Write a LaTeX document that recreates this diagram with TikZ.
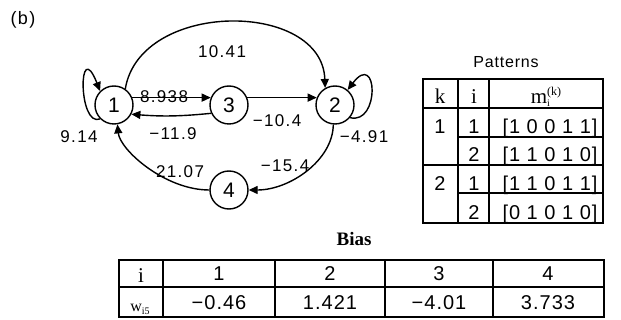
\documentclass[tikz,border=0pt]{standalone}
\usepackage{fontspec}
\setmainfont{Liberation Sans}
\newfontfamily\gul{Liberation Sans}[LetterSpace=8]
\newfontfamily\gut{Liberation Sans}[LetterSpace=5]
\newfontfamily\tms{Liberation Serif}
\usetikzlibrary{arrows.meta}
\begin{document}
\begin{tikzpicture}[x=1pt,y=-1pt,
  vtx/.style={circle,draw,line width=1.4pt,minimum size=38pt,inner sep=0pt,font=\fontsize{21}{21}\selectfont},
  lbl/.style={font=\fontsize{17}{17}\selectfont\gul,inner sep=0pt},
  edge/.style={line width=1.4pt,-{Triangle[length=9pt,width=8pt]}},
  tline/.style={line width=1.1pt},
  cell/.style={font=\fontsize{20}{20}\selectfont\gut,inner sep=0pt,anchor=base},
  hdr/.style={font=\fontsize{21}{21}\selectfont\tms,inner sep=0pt,anchor=base}]
\useasboundingbox (0,0) rectangle (621,320);

% title
\node[font=\fontsize{18}{18}\selectfont\gul,inner sep=0pt] (b) at (23,20) {(b)};

% graph nodes
\node[vtx] (n1) at (114,105) {1};
\node[vtx] (n3) at (229,105) {3};
\node[vtx] (n2) at (335,105) {2};
\node[vtx] (n4) at (229,190) {4};

% edges
\draw[edge] (n1.55) .. controls (140,0) and (322,0) .. (n2.120);
\draw[edge] (n1.225) .. controls (78,128) and (78,35) .. (n1.135);
\draw[edge] (n2.-40) .. controls (380,125) and (378,50) .. (n2.50);
\draw[edge] (n1.22) -- (n3.158);
\draw[edge] (n3.205) to[bend left=5] (n1.-28);
\draw[edge] (n3.22) -- (n2.158);
\draw[edge] (n2.-95) .. controls (333,160) and (290,190) .. (n4.east);
\draw[edge] (n4.west) .. controls (165,190) and (120,150) .. (n1.-80);

% edge labels
\node[lbl] (l1) at (222,52) {10.41};
\node[lbl] (l2) at (164,97) {8.938};
\node[lbl] (l3) at (173,134) {−11.9};
\node[lbl] (l4) at (277,121) {−10.4};
\node[lbl] (l5) at (79,137) {9.14};
\node[lbl] (l6) at (364,137) {−4.91};
\node[lbl] (l7) at (285,166) {−15.4};
\node[lbl] (l8) at (180,172) {21.07};

% Patterns table
\node[font=\fontsize{16}{16}\selectfont\gut,inner sep=0pt] (pt) at (506,62) {Patterns};
\draw[tline] (423,79) rectangle (603,223);
\draw[tline] (458,79) -- (458,223);
\draw[tline] (489,79) -- (489,223);
\draw[tline] (423,108) -- (603,108);
\draw[tline] (458,137) -- (603,137);
\draw[tline] (423,165) -- (603,165);
\draw[tline] (458,193) -- (603,193);

\node[hdr] (hk) at (440,104) {k};
\node[hdr] (hi) at (474,104) {i};
\node[hdr] (hm) at (546,104) {m\rlap{\fontsize{10}{10}\selectfont\raisebox{-3pt}{i}}\fontsize{12}{12}\selectfont\raisebox{8pt}{(k)}};

\node[cell] (k1) at (440,134) {1};
\node[cell] (k2) at (440,191) {2};
\node[cell] (i1) at (474,134) {1};
\node[cell] (i2) at (474,162) {2};
\node[cell] (i3) at (474,191) {1};
\node[cell] (i4) at (474,220) {2};
\node[cell] (m1) at (550,134) {[1 0 0 1 1]};
\node[cell] (m2) at (550,162) {[1 1 0 1 0]};
\node[cell] (m3) at (550,191) {[1 1 0 1 1]};
\node[cell] (m4) at (550,220) {[0 1 0 1 0]};

% Bias table
\node[font=\fontsize{19}{19}\selectfont\tms\bfseries,inner sep=0pt,anchor=base] (bias) at (354,246) {Bias};
\draw[tline] (119,260) rectangle (604,317);
\draw[tline] (119,287) -- (604,287);
\draw[line width=2.8pt] (163,260) -- (163,317);
\draw[tline] (275,260) -- (275,317);
\draw[tline] (385,260) -- (385,317);
\draw[tline] (493,260) -- (493,317);

\node[hdr] (bi) at (141,283) {i};
\node[font=\fontsize{16}{16}\selectfont\tms,inner sep=0pt,anchor=base] (bw) at (140,312) {w\raisebox{-3pt}{\fontsize{10}{10}\selectfont i5}};
\node[cell] (c1) at (219,281) {1};
\node[cell] (c2) at (330,281) {2};
\node[cell] (c3) at (439,281) {3};
\node[cell] (c4) at (548,281) {4};
\node[cell] (v1) at (219,309) {−0.46};
\node[cell] (v2) at (330,309) {1.421};
\node[cell] (v3) at (439,309) {−4.01};
\node[cell] (v4) at (548,309) {3.733};
\end{tikzpicture}
\end{document}
